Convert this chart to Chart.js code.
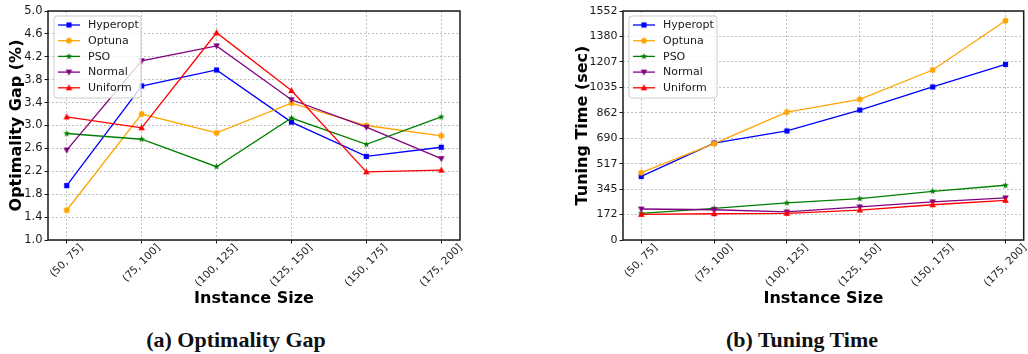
<!DOCTYPE html>
<html>
<head>
<meta charset="utf-8">
<script src="https://cdn.jsdelivr.net/npm/chart.js@4.4.1/dist/chart.umd.min.js"></script>
<style>
  html, body { margin: 0; padding: 0; background: #fff; }
  #wrap { position: relative; width: 1028px; height: 354px; overflow: hidden; }
  .panel { position: absolute; top: 0; }
  .caption {
    position: absolute; top: 329px; width: 400px; text-align: center;
    font: bold 22px "Liberation Serif", serif; line-height: 22px; color: #111;
  }
</style>
</head>
<body>
<div id="wrap">
  <canvas id="gap" class="panel" style="left:0" width="514" height="315"></canvas>
  <canvas id="time" class="panel" style="left:514px" width="514" height="315"></canvas>
  <div class="caption" style="left:36px">(a) Optimality Gap</div>
  <div class="caption" style="left:602px">(b) Tuning Time</div>
</div>
<script>
'use strict';

/* ── Data ─────────────────────────────────────────────────────────── */
const categories  = ['(50, 75]', '(75, 100]', '(100, 125]', '(125, 150]', '(150, 175]', '(175, 200]'];
const seriesNames = ['Hyperopt', 'Optuna', 'PSO', 'Normal', 'Uniform'];

const gapHyperopt = [1.95, 3.69, 3.97, 3.06, 2.46, 2.62];
const gapOptuna   = [1.52, 3.20, 2.87, 3.39, 3.00, 2.82];
const gapPSO      = [2.86, 2.76, 2.28, 3.13, 2.67, 3.15];
const gapNormal   = [2.57, 4.13, 4.39, 3.45, 2.97, 2.42];
const gapUniform  = [3.15, 2.96, 4.62, 3.61, 2.19, 2.22];

const timeHyperopt = [431, 657, 739, 881, 1037, 1190];
const timeOptuna   = [456, 653, 867, 953, 1152, 1486];
const timePSO      = [181, 215, 251, 280, 330, 371];
const timeNormal   = [210, 205, 190, 224, 258, 285];
const timeUniform  = [174, 178, 181, 203, 239, 269];

const gapTicks  = [1.0, 1.4, 1.8, 2.2, 2.6, 3.0, 3.4, 3.8, 4.2, 4.6, 5.0];
const timeTicks = [0, 172, 345, 517, 690, 862, 1035, 1207, 1380, 1552];

/* ── Styles ───────────────────────────────────────────────────────── */
const FONT   = '"DejaVu Sans", sans-serif';
const INK    = '#1a1a1a';
const COLORS = ['#0000ff', '#ffa500', '#008000', '#800080', '#ff0000'];
const SHAPES = ['square', 'circle', 'star', 'triDown', 'triUp'];

// small filled markers, matplotlib-like
function markerImage(shape, color) {
  const c = document.createElement('canvas');
  c.width = 9; c.height = 9;
  const g = c.getContext('2d');
  g.fillStyle = color;
  g.translate(4.5, 4.5);
  g.beginPath();
  if (shape === 'square') {
    g.rect(-2.6, -2.6, 5.2, 5.2);
  } else if (shape === 'circle') {
    g.arc(0, 0, 2.9, 0, Math.PI * 2);
  } else if (shape === 'star') {
    for (let k = 0; k < 10; k++) {
      const r = k % 2 ? 1.4 : 3.6;
      const a = -Math.PI / 2 + k * Math.PI / 5;
      g.lineTo(r * Math.cos(a), r * Math.sin(a));
    }
  } else if (shape === 'triUp') {
    g.moveTo(0, -3.6); g.lineTo(3.3, 2.6); g.lineTo(-3.3, 2.6);
  } else {
    g.moveTo(0, 3.6); g.lineTo(3.3, -2.6); g.lineTo(-3.3, -2.6);
  }
  g.closePath();
  g.fill();
  return c;
}

/* ── Frame, inner legend, centred rotated x labels ────────────────── */
const framePlugin = {
  id: 'frame',
  afterDatasetsDraw(chart, args, opts) {
    const { ctx, chartArea: a } = chart;
    ctx.save();
    ctx.strokeStyle = INK;
    ctx.lineWidth = 1.5;
    ctx.strokeRect(a.left, a.top, a.right - a.left, a.bottom - a.top);

    const x = a.left + 6, y = a.top + 5, w = opts.width, h = 82;
    ctx.beginPath();
    ctx.roundRect(x, y, w, h, 3);
    ctx.fillStyle = 'rgba(255,255,255,0.8)';
    ctx.fill();
    ctx.strokeStyle = '#cccccc';
    ctx.lineWidth = 1;
    ctx.stroke();

    ctx.font = '11px ' + FONT;
    ctx.textBaseline = 'middle';
    chart.data.datasets.forEach((ds, i) => {
      const cy = y + 9 + i * 15.7;
      ctx.strokeStyle = ds.borderColor;
      ctx.lineWidth = ds.borderWidth;
      ctx.beginPath();
      ctx.moveTo(x + 4, cy);
      ctx.lineTo(x + 26, cy);
      ctx.stroke();
      const img = ds.pointStyle;
      ctx.drawImage(img, x + 15 - img.width / 2, cy - img.height / 2);
      ctx.fillStyle = INK;
      ctx.fillText(ds.label, x + 34, cy + 0.5);
    });
    ctx.restore();
  },
  afterDraw(chart) {
    // matplotlib rotation=45 keeps labels centred under the tick
    const { ctx, chartArea: a, scales } = chart;
    ctx.save();
    ctx.font = '10.5px ' + FONT;
    ctx.fillStyle = INK;
    ctx.textAlign = 'center';
    ctx.textBaseline = 'middle';
    categories.forEach((label, k) => {
      const tw = ctx.measureText(label).width;
      const cx = scales.x.getPixelForValue(k);
      const cy = a.bottom + 3 + 0.7071 * (tw + 9) / 2;
      ctx.save();
      ctx.translate(cx, cy);
      ctx.rotate(-Math.PI / 4);
      ctx.fillText(label, 0, 0);
      ctx.restore();
    });
    ctx.restore();
  },
};

/* ── Chart builder ────────────────────────────────────────────────── */
function buildChart(id, seriesValues, cfg) {
  const datasets = seriesValues.map((vals, i) => ({
    label:           seriesNames[i],
    data:            vals.map((v, k) => ({ x: k, y: v })),
    borderColor:     COLORS[i],
    backgroundColor: COLORS[i],
    borderWidth:     1.3,
    pointStyle:      markerImage(SHAPES[i], COLORS[i]),
    pointRadius:     3,
    pointHoverRadius: 3,
    tension:         0,
    fill:            false,
    order:           seriesValues.length - 1 - i,
  }));

  const gridOpts = {
    color: '#b0b0b0', lineWidth: 0.8,
    tickColor: INK, tickLength: 3.5, tickWidth: 1, tickBorderDash: [],
  };

  return new Chart(document.getElementById(id), {
    type: 'line',
    data: { datasets },
    plugins: [framePlugin],
    options: {
      responsive: false,
      animation: false,
      events: [],
      layout: { padding: cfg.padding },
      plugins: {
        legend:  { display: false },
        tooltip: { enabled: false },
        frame:   { width: cfg.legendWidth },
      },
      scales: {
        x: {
          type: 'linear', min: -0.25, max: 5.25,
          afterBuildTicks: s => { s.ticks = categories.map((_, k) => ({ value: k })); },
          afterFit: s => { s.height = 75; },
          ticks: { display: false },
          grid: gridOpts,
          border: { display: false, dash: [2, 2] },
          title: {
            display: true, text: 'Instance Size', color: '#000',
            font: { family: FONT, size: 16, weight: 'bold' },
            padding: { top: 0, bottom: 7 },
          },
        },
        y: {
          min: cfg.ticks[0], max: cfg.ticks[cfg.ticks.length - 1],
          afterBuildTicks: s => { s.ticks = cfg.ticks.map(v => ({ value: v })); },
          afterFit: s => { s.width = cfg.yWidth; },
          ticks: {
            callback: cfg.fmt,
            font: { family: FONT, size: cfg.yFont }, color: INK, padding: 2,
          },
          grid: gridOpts,
          border: { display: false, dash: [2, 2] },
          title: {
            display: true, text: cfg.title, color: '#000',
            font: { family: FONT, size: 16, weight: 'bold' },
            padding: { top: cfg.titlePad, bottom: 0 },
          },
        },
      },
    },
  });
}

buildChart('gap', [gapHyperopt, gapOptuna, gapPSO, gapNormal, gapUniform], {
  ticks: gapTicks, fmt: v => v.toFixed(1), title: 'Optimality Gap (%)',
  padding: { left: 0, top: 11, right: 54, bottom: 0 },
  yWidth: 48, yFont: 11.5, titlePad: 7, legendWidth: 87,
});

buildChart('time', [timeHyperopt, timeOptuna, timePSO, timeNormal, timeUniform], {
  ticks: timeTicks, fmt: v => String(v), title: 'Tuning Time (sec)',
  padding: { left: 50, top: 11, right: 3, bottom: 0 },
  yWidth: 59, yFont: 11, titlePad: 9, legendWidth: 88,
});
</script>
</body>
</html>
